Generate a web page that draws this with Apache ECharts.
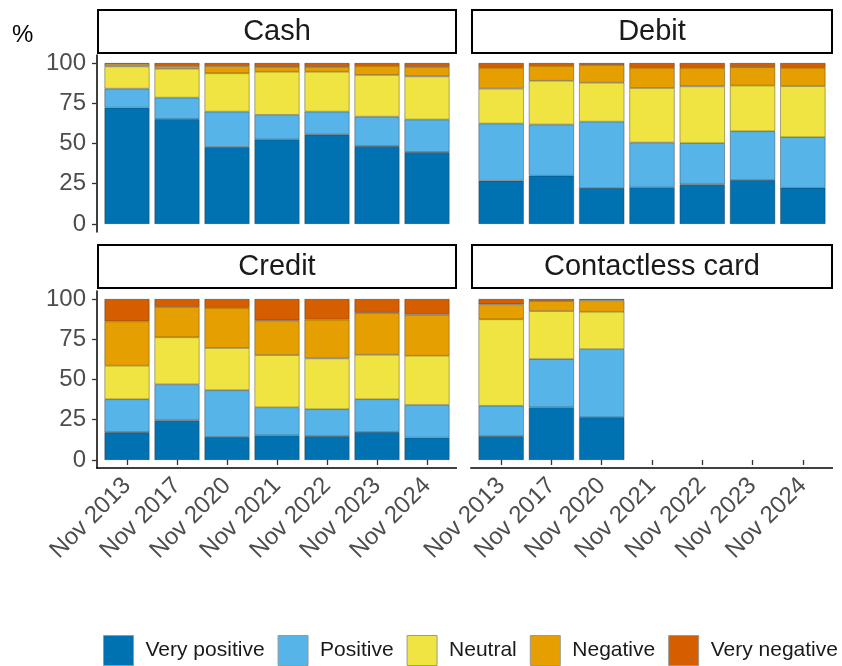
<!DOCTYPE html>
<html>
<head>
<meta charset="utf-8">
<script src="https://cdn.jsdelivr.net/npm/echarts@6/dist/echarts.min.js"></script>
<style>
  html, body { margin: 0; padding: 0; background: #fff; }
  #main { width: 842px; height: 666px; }
</style>
</head>
<body>
<div id="main"></div>
<script>
// survey waves
var periods = ['Nov 2013', 'Nov 2017', 'Nov 2020', 'Nov 2021', 'Nov 2022', 'Nov 2023', 'Nov 2024'];
var levels = ['Very positive', 'Positive', 'Neutral', 'Negative', 'Very negative'];
var colors = ['#0072B2', '#56B4E9', '#F0E442', '#E69F00', '#D55E00'];
var yTicks = [0, 25, 50, 75, 100];

// shares (%) per payment method, one array per level
var cashVeryPos = [72.3, 65.1, 47.9, 52.5, 55.6, 48.3, 44.6];
var cashPos     = [11.8, 13.4, 21.9, 15.3, 14.2, 18.4, 20.3];
var cashNeutral = [13.8, 18.0, 23.8, 26.8, 24.8, 25.9, 26.8];
var cashNeg     = [1.6, 1.6, 4.5, 3.1, 3.1, 5.7, 6.0];
var cashVeryNeg = [0.5, 1.9, 1.9, 2.3, 2.3, 1.7, 2.3];

var debitVeryPos = [26.9, 30.0, 22.3, 22.7, 24.6, 27.3, 22.5];
var debitPos     = [35.5, 31.8, 41.3, 27.9, 25.6, 30.3, 31.4];
var debitNeutral = [21.7, 27.2, 24.2, 33.9, 35.3, 28.4, 31.8];
var debitNeg     = [13.0, 9.3, 11.0, 12.6, 11.6, 11.5, 11.4];
var debitVeryNeg = [2.9, 1.7, 1.2, 2.9, 2.9, 2.5, 2.9];

var creditVeryPos = [17.2, 24.6, 14.3, 15.3, 14.7, 17.4, 13.9];
var creditPos     = [20.5, 22.4, 29.0, 17.4, 16.8, 20.3, 20.3];
var creditNeutral = [20.9, 29.2, 26.3, 32.5, 31.6, 27.7, 30.6];
var creditNeg     = [27.5, 18.8, 25.0, 21.5, 24.1, 26.1, 25.5];
var creditVeryNeg = [13.9, 5.0, 5.4, 13.3, 12.8, 8.5, 9.7];

var contactVeryPos = [14.7, 32.7, 26.5];
var contactPos     = [19.0, 30.0, 42.4];
var contactNeutral = [53.7, 29.8, 23.2];
var contactNeg     = [9.3, 6.3, 7.1];
var contactVeryNeg = [3.3, 1.2, 0.8];

var panels = [
  { title: 'Cash', data: [cashVeryPos, cashPos, cashNeutral, cashNeg, cashVeryNeg] },
  { title: 'Debit', data: [debitVeryPos, debitPos, debitNeutral, debitNeg, debitVeryNeg] },
  { title: 'Credit', data: [creditVeryPos, creditPos, creditNeutral, creditNeg, creditVeryNeg] },
  { title: 'Contactless card', data: [contactVeryPos, contactPos, contactNeutral, contactNeg, contactVeryNeg] }
];

var FONT = "'Liberation Sans', Arial, sans-serif";
// panel frames (ggplot-like: 0.6 category expansion each side)
var boxes = [
  { left: 97, width: 360, top: 55, height: 177, stripTop: 10 },
  { left: 471, width: 362, top: 55, height: 177, stripTop: 10 },
  { left: 97, width: 360, top: 291, height: 177, stripTop: 245 },
  { left: 471, width: 362, top: 291, height: 177, stripTop: 245 }
];

var grids = [], xAxes = [], yAxes = [], series = [], graphics = [];

panels.forEach(function (panel, k) {
  var b = boxes[k];
  var isLeft = (k % 2 === 0);
  var isBottom = (k >= 2);
  var unit = b.width / 7.2;
  var pad = unit * 0.1;
  grids.push({ left: b.left + pad, top: b.top, width: b.width - 2 * pad, height: b.height });

  xAxes.push({
    gridIndex: k, type: 'category', data: periods,
    axisLine: { show: false },
    axisTick: { show: isBottom, alignWithLabel: true, length: 5, lineStyle: { color: '#333', width: 1.3 } },
    axisLabel: {
      show: isBottom, interval: 0, rotate: 45, margin: 14,
      padding: [32, 0, 0, 0],
      fontSize: 24, color: '#4D4D4D', fontFamily: FONT
    }
  });

  yAxes.push({
    gridIndex: k, type: 'value', min: -5, max: 105,
    offset: pad,
    splitLine: { show: false },
    axisLine: { show: isLeft, onZero: false, lineStyle: { color: '#000', width: 1.5 } },
    axisTick: { show: isLeft, customValues: yTicks, length: 5, lineStyle: { color: '#333', width: 1.3 } },
    axisLabel: {
      show: isLeft, customValues: yTicks, margin: 11,
      fontSize: 24, color: '#4D4D4D', fontFamily: FONT
    }
  });

  panel.data.forEach(function (vals, j) {
    series.push({
      name: levels[j],
      type: 'bar',
      stack: 'p' + k,
      xAxisIndex: k,
      yAxisIndex: k,
      barWidth: '90%',
      itemStyle: { color: colors[j], borderColor: 'rgba(40,40,40,0.65)', borderWidth: 0.6 },
      data: vals
    });
  });

  // bottom axis line across the whole panel
  if (isBottom) {
    graphics.push({
      type: 'line',
      shape: { x1: b.left - 0.75, y1: b.top + b.height, x2: b.left + b.width, y2: b.top + b.height },
      style: { stroke: '#000', lineWidth: 1.5 }
    });
  }

  // facet strip
  graphics.push({
    type: 'rect',
    shape: { x: b.left + 1, y: b.stripTop, width: b.width - 2, height: 43 },
    style: { fill: '#fff', stroke: '#000', lineWidth: 2 }
  });
  graphics.push({
    type: 'text',
    x: b.left + b.width / 2, y: b.stripTop + 22,
    style: {
      text: panel.title, fill: '#1A1A1A', font: '29px ' + FONT,
      textAlign: 'center', textVerticalAlign: 'middle'
    }
  });
});

graphics.push({
  type: 'text', x: 12, y: 35,
  style: { text: '%', fill: '#000', font: '24px ' + FONT, textVerticalAlign: 'middle' }
});

var chart = echarts.init(document.getElementById('main'));
chart.setOption({
  animation: false,
  backgroundColor: '#fff',
  grid: grids,
  xAxis: xAxes,
  yAxis: yAxes,
  legend: {
    data: levels,
    left: 103, top: 635, width: 739, padding: 0,
    icon: 'rect',
    itemWidth: 30, itemHeight: 30, itemGap: 13,
    itemStyle: { borderColor: '#999', borderWidth: 1 },
    textStyle: { fontSize: 21, color: '#1A1A1A', fontFamily: FONT, padding: [0, 0, 0, 7] }
  },
  graphic: graphics,
  series: series
});
</script>
</body>
</html>
